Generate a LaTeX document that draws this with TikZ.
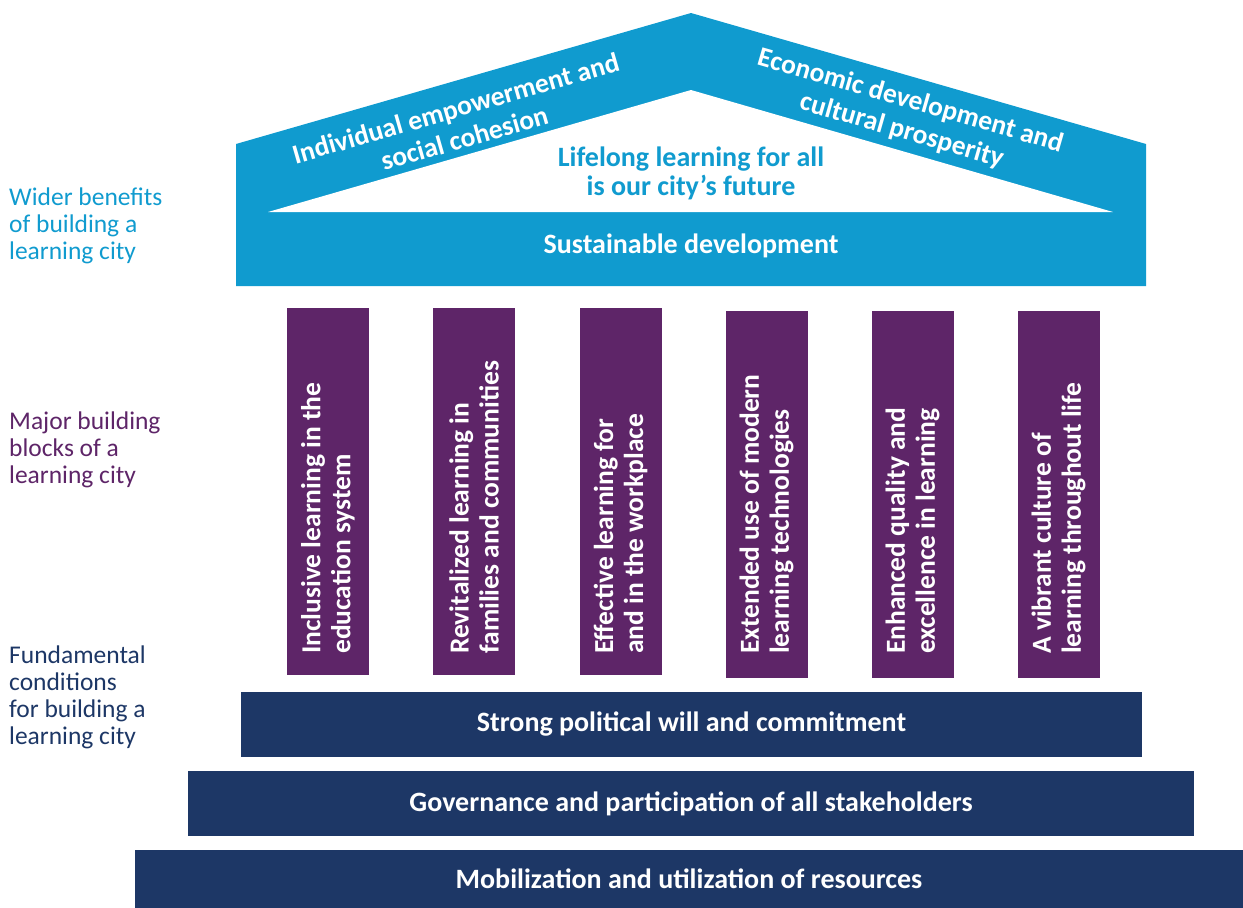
\documentclass[tikz,border=0pt]{standalone}
\usepackage{fontspec}
\setmainfont{Carlito}
\definecolor{lblue}{HTML}{109BCF}
\definecolor{lpurple}{HTML}{5E2568}
\definecolor{navy}{HTML}{1D3766}
\tikzset{
  boxtext/.style={font=\fontsize{28}{30}\selectfont\bfseries},
  pillar/.style={fill=lpurple, inner sep=0pt, minimum width=82pt, minimum height=367pt},
  pillartext/.style={text=white, rotate=90, anchor=west, align=left, inner sep=0pt, font=\fontsize{27.5}{30}\selectfont\bfseries},
  bar/.style={fill=navy, inner sep=0pt, boxtext, text=white},
  sidelabel/.style={anchor=north west, align=left, inner sep=0pt, font=\fontsize{25.5}{27}\selectfont},
  rooftext/.style={text=white, align=center, inner sep=0pt, font=\fontsize{27.5}{31}\selectfont\bfseries}
}
\begin{document}
\begin{tikzpicture}[x=1pt,y=-1pt]
\useasboundingbox (0,0) rectangle (1243,908);
% roof
\fill[lblue] (236,286) -- (236,144) -- (691,13) -- (1146,144) -- (1146,286) -- cycle;
\fill[white] (268,212) -- (691,90) -- (1113,212) -- cycle;
\node[rooftext, rotate=16.06] (rl) at (460,123) {Individual empowerment and\\social cohesion};
\node[rooftext, rotate=-16.06] (rr) at (906,116) {Economic development and\\cultural prosperity};
\node[text=lblue, align=center, inner sep=0pt, font=\fontsize{28}{29}\selectfont\bfseries] (life) at (691,173) {Lifelong learning for all\\is our city’s future};
\node[boxtext, text=white, inner sep=0pt] (sus) at (691,246) {Sustainable development};
% pillars
\foreach \i/\x/\y/\t in {1/328/491.5/{Inclusive learning in the\\education system},
                        2/474/491.5/{Revitalized learning in\\families and communities},
                        3/620.5/491.5/{Effective learning for\\and in the workplace},
                        4/766.5/494/{Extended use of modern\\learning technologies},
                        5/912.5/494/{Enhanced quality and\\excellence in learning},
                        6/1058.5/494/{A vibrant culture of\\learning throughout life}}{
  \node[pillar] (p\i) at (\x,\y) {};
  \node[pillartext] (pt\i) at (\x,654) {\t};
}
% bars
\node[bar, minimum width=901pt, minimum height=65pt] (b1) at (691.5,724.5) {Strong political will and commitment};
\node[bar, minimum width=1006pt, minimum height=65pt] (b2) at (691,803.5) {Governance and participation of all stakeholders};
\node[bar, minimum width=1108pt, minimum height=58pt] (b3) at (689,879) {Mobilization and utilization of resources};
% side labels
\node[sidelabel, text=lblue] (l1) at (9,188) {Wider benefits\\of building a\\learning city};
\node[sidelabel, text=lpurple] (l2) at (9,412) {Major building\\blocks of a\\learning city};
\node[sidelabel, text=navy] (l3) at (9,646) {Fundamental\\conditions\\for building a\\learning city};
\end{tikzpicture}
\end{document}
